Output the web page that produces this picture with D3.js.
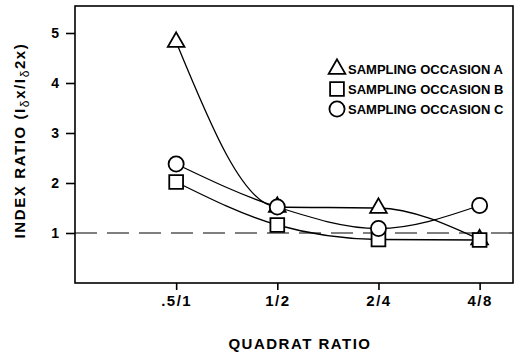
<!DOCTYPE html>
<html>
<head>
<meta charset="utf-8">
<script src="https://cdn.jsdelivr.net/npm/d3@7"></script>
<style>
  body { margin: 0; background: #fff; }
  text { font-family: "Liberation Sans", Arial, sans-serif; font-weight: bold; fill: #000; }
</style>
</head>
<body>
<svg class="chart" width="520" height="357"></svg>
<script>
// quadrat ratio categories and the index ratio per sampling occasion
var categories = [".5/1", "1/2", "2/4", "4/8"];
var occasionA = [4.82, 1.52, 1.5, 0.87];
var occasionB = [2.02, 1.16, 0.87, 0.86];
var occasionC = [2.38, 1.52, 1.09, 1.55];
var seriesNames = ["SAMPLING OCCASION A", "SAMPLING OCCASION B", "SAMPLING OCCASION C"];
var yTicks = [1, 2, 3, 4, 5];

var svg = d3.select(".chart"),
    margin = {top: 6, right: 7, bottom: 74, left: 75},
    width = +svg.attr("width") - margin.left - margin.right,
    height = +svg.attr("height") - margin.top - margin.bottom,
    g = svg.append("g").attr("transform", "translate(" + margin.left + "," + margin.top + ")");

var x = d3.scaleLinear()
    .domain([-1, 3.33])
    .range([0, width]);

var y = d3.scaleLinear()
    .domain([0, 5.54])
    .range([height, 0]);

// frame
g.append("rect")
    .attr("width", width)
    .attr("height", height)
    .attr("fill", "none")
    .attr("stroke", "#000")
    .attr("stroke-width", 1.6);

// reference line at 1
g.append("line")
    .attr("x1", 0).attr("x2", width)
    .attr("y1", y(1)).attr("y2", y(1))
    .attr("stroke", "#000")
    .attr("stroke-width", 1.2)
    .attr("stroke-dasharray", "22,10");

var xAxis = g.append("g")
    .attr("transform", "translate(0," + height + ")")
    .call(d3.axisBottom(x)
      .tickValues([0, 1, 2, 3])
      .tickSize(7)
      .tickPadding(5)
      .tickFormat(function(i) { return categories[i]; }));
xAxis.select(".domain").remove();
xAxis.selectAll("line").attr("stroke-width", 1.6);
xAxis.selectAll("text")
    .attr("font-size", 15)
    .attr("letter-spacing", "1.5px");

var yAxis = g.append("g")
    .call(d3.axisLeft(y)
      .tickValues(yTicks)
      .tickSize(9)
      .tickPadding(7)
      .tickFormat(d3.format("d")));
yAxis.select(".domain").remove();
yAxis.selectAll("line").attr("stroke-width", 1.6);
yAxis.selectAll("text").attr("font-size", 14);

// axis titles
svg.append("text")
    .attr("x", 300)
    .attr("y", 349)
    .attr("text-anchor", "middle")
    .attr("font-size", 15)
    .attr("letter-spacing", "1.5px")
    .text("QUADRAT RATIO");

var yt = svg.append("text")
    .attr("transform", "translate(25," + (margin.top + height / 2 - 4) + ") rotate(-90)")
    .attr("text-anchor", "middle")
    .attr("font-size", 15)
    .attr("letter-spacing", "1.6px");
yt.append("tspan").text("INDEX RATIO (I");
yt.append("tspan").attr("dy", 4).attr("font-size", 12).attr("font-weight", "normal").text("δ");
yt.append("tspan").attr("dy", -4).text("x/I");
yt.append("tspan").attr("dy", 4).attr("font-size", 12).attr("font-weight", "normal").text("δ");
yt.append("tspan").attr("dy", -4).text("2x)");

var line = d3.line()
    .x(function(d, i) { return x(i); })
    .y(function(d) { return y(d); })
    .curve(d3.curveMonotoneX);

var series = [occasionA, occasionB, occasionC];
var symbols = [
  d3.symbol().type(d3.symbolTriangle).size(120),
  d3.symbol().type(d3.symbolSquare).size(190),
  d3.symbol().type(d3.symbolCircle).size(180)
];

series.forEach(function(s) {
  g.append("path")
      .datum(s)
      .attr("fill", "none")
      .attr("stroke", "#000")
      .attr("stroke-width", 1.3)
      .attr("d", line);
});

series.forEach(function(s, k) {
  g.selectAll(".pt" + k)
    .data(s)
    .enter().append("path")
      .attr("class", "pt" + k)
      .attr("transform", function(d, i) { return "translate(" + x(i) + "," + y(d) + ")"; })
      .attr("d", symbols[k])
      .attr("fill", "#fff")
      .attr("stroke", "#000")
      .attr("stroke-width", 1.8);
});

// legend
var legend = svg.append("g").attr("transform", "translate(337,69)");
seriesNames.forEach(function(name, k) {
  var row = legend.append("g").attr("transform", "translate(0," + (k * 20) + ")");
  row.append("path")
      .attr("d", symbols[k])
      .attr("fill", "#fff")
      .attr("stroke", "#000")
      .attr("stroke-width", 1.8);
  row.append("text")
      .attr("x", 11)
      .attr("y", 5)
      .attr("font-size", 13)
      .text(name);
});
</script>
</body>
</html>
